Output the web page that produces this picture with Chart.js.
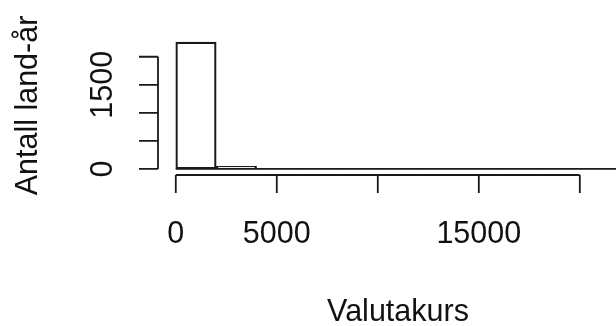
<!DOCTYPE html>
<html>
<head>
<meta charset="utf-8" />
<script src="https://cdn.jsdelivr.net/npm/chart.js@4"></script>
<style>
  html, body { margin: 0; padding: 0; background: #fff; overflow: hidden; }
  #wrap { width: 616px; height: 326px; overflow: hidden; }
</style>
</head>
<body>
<div id="wrap">
  <canvas id="histChart" width="680" height="326"></canvas>
</div>
<script>
// histogram bins (valutakurs), width 2000
const binStarts = [0, 2000, 4000, 6000, 8000, 10000, 12000, 14000, 16000, 18000, 20000];
const binWidth = 2000;
const counts = [2262, 48, 3, 2, 1, 1, 0, 0, 1, 0, 1];

// axis ticks and the labels R actually prints
const xTicks = [0, 5000, 10000, 15000, 20000];
const xTickLabels = ["0", "5000", "", "15000", ""];
const yTicks = [0, 500, 1000, 1500, 2000];
const yTickLabels = ["0", "", "", "1500", ""];

const xTitle = "Valutakurs";
const yTitle = "Antall land-år";

const font = "30.5px 'Liberation Sans', Arial, sans-serif";
const ink = "#1a1a1a";

// draws R style axes from the chart's own scales
const rAxes = {
  id: "rAxes",
  afterDraw: (chart) => {
    const ctx = chart.ctx;
    const area = chart.chartArea;
    const xs = chart.scales.x;
    const ys = chart.scales.y;
    ctx.save();
    ctx.strokeStyle = ink;
    ctx.lineWidth = 1.8;
    ctx.fillStyle = "#111";
    ctx.font = font;

    // x axis
    const ax = area.bottom + 1;
    ctx.beginPath();
    ctx.moveTo(xs.getPixelForValue(xTicks[0]), ax);
    ctx.lineTo(xs.getPixelForValue(xTicks[xTicks.length - 1]), ax);
    xTicks.forEach((t) => {
      const px = xs.getPixelForValue(t);
      ctx.moveTo(px, ax);
      ctx.lineTo(px, ax + 18);
    });
    ctx.stroke();
    ctx.textAlign = "center";
    ctx.textBaseline = "alphabetic";
    xTicks.forEach((t, i) => {
      if (xTickLabels[i]) ctx.fillText(xTickLabels[i], xs.getPixelForValue(t), ax + 68);
    });
    ctx.fillText(xTitle, (area.left + area.right) / 2, 321);

    // y axis
    const ay = area.left;
    ctx.beginPath();
    ctx.moveTo(ay, ys.getPixelForValue(yTicks[0]));
    ctx.lineTo(ay, ys.getPixelForValue(yTicks[yTicks.length - 1]));
    yTicks.forEach((t) => {
      const py = ys.getPixelForValue(t);
      ctx.moveTo(ay, py);
      ctx.lineTo(ay - 19, py);
    });
    ctx.stroke();
    yTicks.forEach((t, i) => {
      if (!yTickLabels[i]) return;
      ctx.save();
      ctx.translate(ay - 46, ys.getPixelForValue(t));
      ctx.rotate(-Math.PI / 2);
      ctx.fillText(yTickLabels[i], 0, 0);
      ctx.restore();
    });
    ctx.save();
    ctx.translate(37, (area.top + area.bottom) / 2);
    ctx.rotate(-Math.PI / 2);
    ctx.fillText(yTitle, 0, 0);
    ctx.restore();

    ctx.restore();
  },
};

// bin edges, used for the zero line under the empty bins
const binEdges = binStarts.concat([binStarts[binStarts.length - 1] + binWidth]);

const chartData = {
  datasets: [
    {
      type: "line",
      label: "base",
      data: binEdges.map((e) => ({ x: e, y: 0 })),
      borderColor: ink,
      borderWidth: 1.8,
      pointRadius: 0,
      order: 0,
    },
    {
      label: "Antall",
      data: binStarts.map((b, i) => ({ x: b + binWidth / 2, y: counts[i] })),
      backgroundColor: "#fff",
      borderColor: ink,
      borderWidth: 2.2,
      borderSkipped: false,
      barPercentage: 1,
      categoryPercentage: 1,
      order: 1,
    },
  ],
};

const config = {
  type: "bar",
  data: chartData,
  options: {
    responsive: false,
    animation: false,
    layout: {
      padding: { left: 158, right: 42, top: 37, bottom: 152 },
    },
    scales: {
      x: {
        type: "linear",
        display: false,
        offset: false,
        min: -880,
        max: 22880,
      },
      y: {
        display: false,
        min: -90.5,
        max: 2352.5,
      },
    },
    plugins: {
      legend: { display: false },
      tooltip: { enabled: false },
    },
  },
  plugins: [rAxes],
};

const ctx = document.getElementById("histChart");
const myChart = new Chart(ctx, config);
</script>
</body>
</html>
